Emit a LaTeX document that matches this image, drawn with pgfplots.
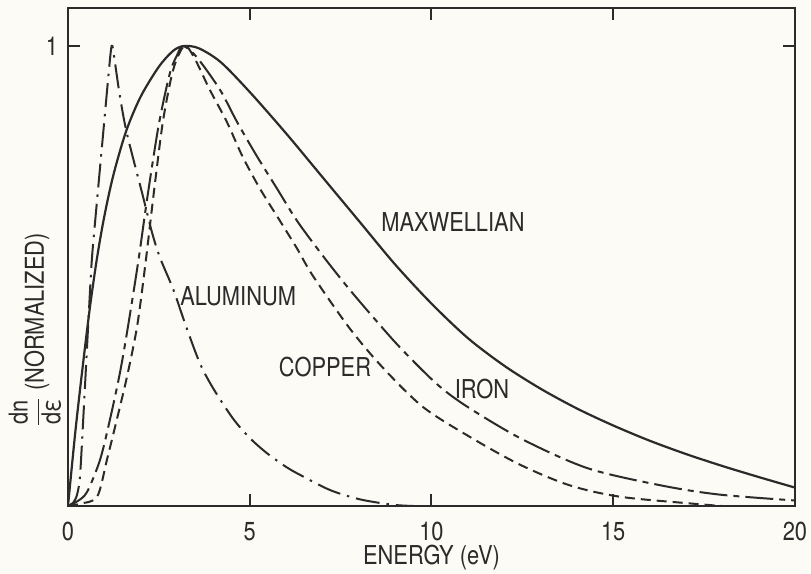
\documentclass[border=0pt]{standalone}
\usepackage{fontspec}
\setmainfont{TeX Gyre Heros}[FakeStretch=0.84]
\usepackage{pgfplots}
\pgfplotsset{compat=1.18}
\definecolor{ink}{HTML}{2B2B2B}
\definecolor{paper}{HTML}{FCFBF5}
\newcommand\lbl{\fontsize{13}{15}\selectfont}
\begin{document}
\begin{tikzpicture}
\fill[paper] (-34pt,-34pt) rectangle (371.5pt,253pt);
\begin{axis}[
  scale only axis, width=363.5pt, height=249pt,
  xmin=0, xmax=20, ymin=0, ymax=1.0826,
  xtick={0,5,10,15,20}, ytick={1},
  tick align=inside, xtick pos=both, ytick pos=both,
  major tick length=6pt,
  tick style={ink, line width=1pt},
  axis line style={ink, line width=1.2pt},
  tick label style={font=\lbl, text=ink},
  /pgf/number format/assume math mode=true,
  xticklabel style={inner sep=1pt, yshift=-7pt},
  yticklabel style={xshift=-1.5pt},
  xlabel={\lbl ENERGY (eV)},
  xlabel style={at={(axis description cs:0.5,0)}, anchor=center, inner sep=0.5pt, yshift=-26pt, text=ink},
  ylabel={\lbl $\displaystyle\frac{\hbox{\lbl dn}}{\hbox{\lbl dε}}$ (NORMALIZED)},
  ylabel style={at={(axis description cs:-0.0454,0.353)}, anchor=center, text=ink},
  every axis plot/.append style={ink, line width=1pt},
]
% MAXWELLIAN
\addplot[smooth, line width=1.1pt] coordinates {
(0,0) (0.2,0.16) (0.4,0.3) (0.6,0.43) (0.8,0.54) (1.0,0.63) (1.25,0.72)
(1.6,0.815) (2.0,0.89) (2.5,0.955) (2.9,0.99) (3.2,1.0) (3.6,0.995)
(4.2,0.965) (5,0.9) (6,0.81) (7,0.715) (8,0.62) (9,0.525) (10,0.44)
(11,0.365) (12,0.305) (13,0.255) (14,0.212) (15,0.175) (16,0.142)
(17,0.113) (18,0.087) (19,0.063) (20,0.04)};
% ALUMINUM
\addplot[smooth, dash pattern=on 12pt off 3.5pt on 1.2pt off 3.5pt] coordinates {
(0,0) (0.15,0.008) (0.25,0.025) (0.33,0.065) (0.42,0.19) (0.5,0.31) (0.58,0.43)
(0.66,0.54) (0.8,0.665) (0.95,0.795) (1.1,0.925) (1.18,0.99) (1.22,1.0)
(1.29,0.965) (1.43,0.89) (1.62,0.81) (2.04,0.68) (2.31,0.595) (2.53,0.54)
(2.9,0.47) (3.25,0.39) (3.63,0.31) (4.0,0.255) (4.54,0.19) (5.0,0.148)
(5.47,0.115) (6.0,0.085) (6.4,0.067) (7.2,0.035) (8.0,0.015) (8.9,0.003) (9.5,0)};
% IRON
\addplot[smooth, dash pattern=on 14pt off 3pt on 3pt off 3pt] coordinates {
(0,0) (0.25,0.01) (0.52,0.03) (0.88,0.10) (1.16,0.19) (1.43,0.29) (1.65,0.39)
(1.93,0.53) (2.2,0.68) (2.5,0.83) (2.8,0.94) (3.0,0.98) (3.17,1.0)
(3.55,0.975) (4.18,0.905) (4.65,0.835) (5.2,0.76) (5.75,0.69) (6.3,0.62)
(7.0,0.545) (7.7,0.475) (8.4,0.41) (9.13,0.345) (10.15,0.265) (11.0,0.215)
(12.5,0.145) (14.3,0.082) (16.3,0.045) (17.9,0.025) (20,0.012)};
% COPPER
\addplot[smooth, dash pattern=on 5pt off 3pt] coordinates {
(0,0) (0.33,0.005) (0.8,0.02) (1.07,0.10) (1.35,0.19) (1.62,0.28) (1.9,0.39)
(2.12,0.52) (2.39,0.7) (2.62,0.84) (2.9,0.95) (3.2,1.0)
(3.47,0.975) (3.9,0.905) (4.37,0.835) (4.8,0.76) (5.28,0.69) (5.83,0.62)
(6.3,0.56) (6.74,0.50) (7.76,0.385) (8.67,0.30) (9.77,0.215) (11.06,0.15)
(12.43,0.09) (13.8,0.045) (15.2,0.02) (17.2,0.005) (18,0)};
\node[text=ink, font=\lbl] at (axis cs:10.59,0.617) {MAXWELLIAN};
\node[text=ink, font=\lbl] at (axis cs:4.68,0.4565) {ALUMINUM};
\node[text=ink, font=\lbl] at (axis cs:7.07,0.302) {COPPER};
\node[text=ink, font=\lbl] at (axis cs:11.39,0.254) {IRON};
\end{axis}
\pgfresetboundingbox
\useasboundingbox (-34pt,-34pt) rectangle (371.5pt,253pt);
\end{tikzpicture}
\end{document}
